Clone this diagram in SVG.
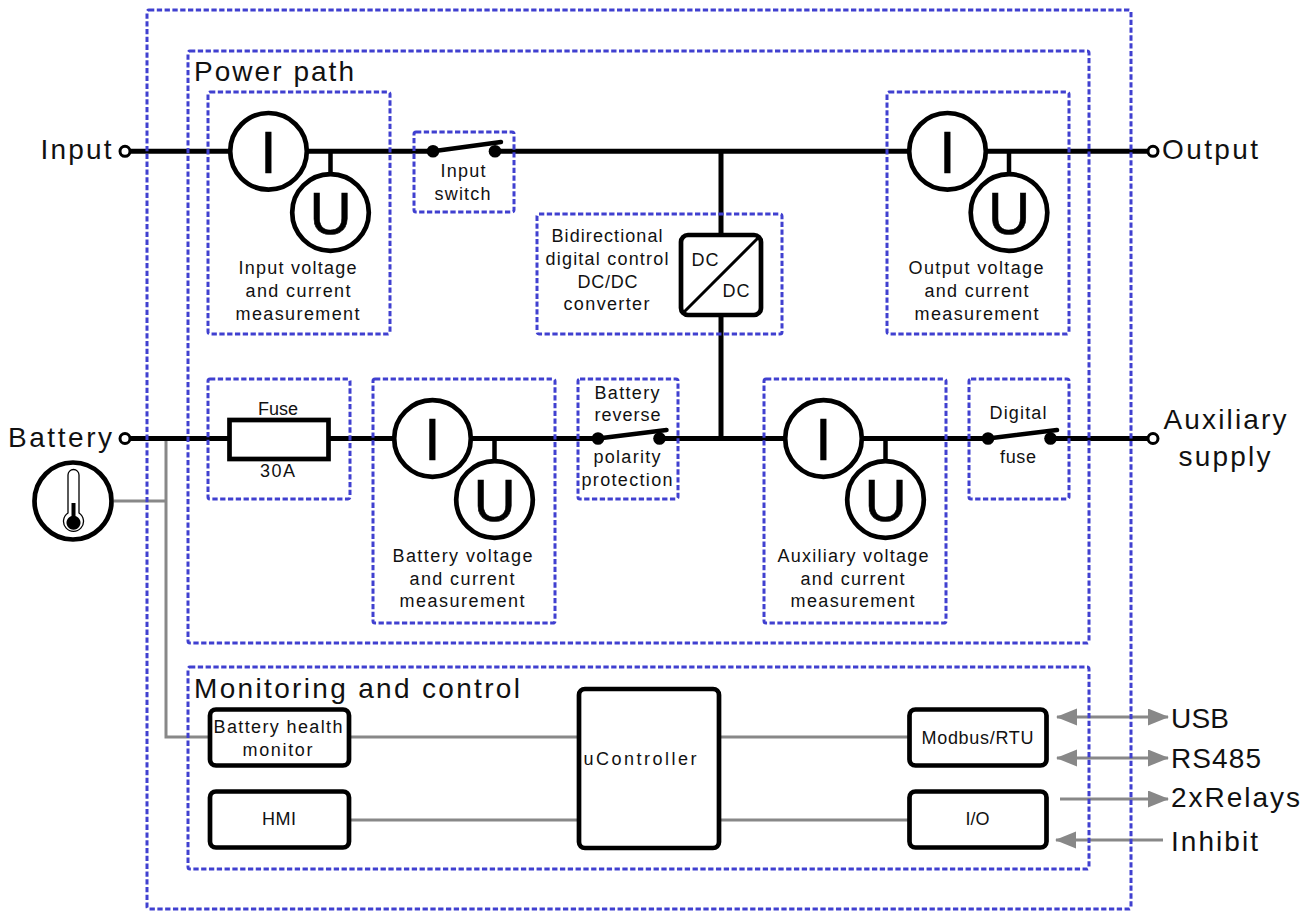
<svg xmlns="http://www.w3.org/2000/svg" width="1316" height="911" viewBox="0 0 1316 911">
<style>
text{font-family:"Liberation Sans",Arial,sans-serif;fill:#111;text-anchor:middle}
.s{font-size:18px}
.l{font-size:28px}
.ls{text-anchor:start}
.m{font-size:58.5px;fill:#000;stroke:#000;stroke-width:.6}
.d{fill:none;stroke:#4040d0;stroke-width:3;stroke-dasharray:5.3 2.500}
.p{fill:none;stroke:#000;stroke-width:5}
.g{fill:none;stroke:#888;stroke-width:3}
.c{fill:#fff;stroke:#000;stroke-width:4.700}
.b{fill:#fff;stroke:#000;stroke-width:4.700}
.t{fill:#fff;stroke:#000;stroke-width:3}
.w{fill:none;stroke:#000;stroke-width:4.500;stroke-linecap:round}
</style>
<defs>
<marker id="ah" markerUnits="userSpaceOnUse" markerWidth="22" markerHeight="18" refX="20" refY="8.500" orient="auto-start-reverse"><path d="M0 0L21 8.500L0 17z" fill="#888"/></marker>
</defs>
<g id="connectors">
<path class="g" d="M114 501H166M166 438V737H210M349 737H579M349 820H579M719 737H909M719 820H909"/>
<path class="g" d="M1057 717H1168" marker-start="url(#ah)" marker-end="url(#ah)"/>
<path class="g" d="M1057 758H1168" marker-start="url(#ah)" marker-end="url(#ah)"/>
<path class="g" d="M1060 799H1168" marker-end="url(#ah)"/>
<path class="g" d="M1163 840H1056" marker-end="url(#ah)"/>
<path class="p" d="M131 151.300H433M495 151.300H1147M721 151V438.500M131 438.500H598M660 438.500H988M1051 438.500H1147"/>
<path d="M330.500 151V180M1009 151V180M494.500 438V468M885.500 438V468" fill="none" stroke="#000" stroke-width="4.500"/>
</g>
<g id="zones">
<rect class="d" x="147" y="10" width="984" height="899" rx="2"/>
<rect class="d" x="188" y="51" width="901" height="592" rx="2"/>
<rect class="d" x="188" y="667" width="901" height="202" rx="2"/>
<text class="l ls" x="194" y="81" textLength="160">Power path</text>
<text class="l ls" x="194" y="698" textLength="326">Monitoring and control</text>
</g>
<g id="input-terminal"><circle class="t" cx="125" cy="151.300" r="5"/><text class="l" x="76" y="159" textLength="71">Input</text></g>
<g id="output-terminal"><circle class="t" cx="1153" cy="151.300" r="5"/><text class="l ls" x="1162" y="159" textLength="96">Output</text></g>
<g id="battery-terminal"><circle class="t" cx="125" cy="438.500" r="5"/><text class="l" x="60" y="447" textLength="104">Battery</text></g>
<g id="aux-terminal"><circle class="t" cx="1153" cy="438.500" r="5"/><text class="l" x="1225" y="429" textLength="123">Auxiliary</text><text class="l" x="1224.500" y="466" textLength="92">supply</text></g>
<g id="temperature-sensor">
<circle class="c" cx="73" cy="501" r="38.500"/>
<path d="M68 475a5.500 5.500 0 0 1 11 0V513a10 10 0 1 1-11 0z" fill="#fff" stroke="#000" stroke-width="1.300"/>
<path d="M71.500 503H75.500V516A7 7 0 1 1 71.500 516z" fill="#000"/>
</g>
<g id="input-meter">
<circle class="c" cx="268.500" cy="151.300" r="38.300"/><text class="m" x="268.500" y="173">I</text>
<circle class="c" cx="330.500" cy="212.500" r="38.300"/><text class="m" x="330.500" y="234">U</text>
<text class="s" x="297.500" y="274" textLength="118">Input voltage</text><text class="s" x="298" y="297" textLength="105">and current</text><text class="s" x="297.500" y="320" textLength="124">measurement</text>
<rect class="d" x="208" y="92" width="182" height="242" rx="2"/>
</g>
<g id="output-meter">
<circle class="c" cx="947.500" cy="151.300" r="38.300"/><text class="m" x="947.500" y="173">I</text>
<circle class="c" cx="1009" cy="212.500" r="38.300"/><text class="m" x="1009" y="234">U</text>
<text class="s" x="976" y="274" textLength="135">Output voltage</text><text class="s" x="976.500" y="297" textLength="104">and current</text><text class="s" x="976.500" y="320" textLength="124">measurement</text>
<rect class="d" x="887" y="92" width="182" height="242" rx="2"/>
</g>
<g id="input-switch">
<circle cx="433" cy="151.300" r="6.300"/><circle cx="495" cy="151.300" r="6.300"/><path class="w" d="M433 151.300L501 142"/>
<text class="s" x="463" y="177" textLength="45">Input</text><text class="s" x="462.500" y="200" textLength="56">switch</text>
<rect class="d" x="414" y="132" width="100" height="80" rx="2"/>
</g>
<g id="dcdc">
<rect class="b" x="681" y="235" width="80" height="80" rx="7"/><path d="M683 313L759 237" stroke="#000" stroke-width="3"/>
<text class="s" x="705" y="266" textLength="27">DC</text><text class="s" x="736" y="297" textLength="27">DC</text>
<text class="s" x="607" y="242" textLength="111">Bidirectional</text><text class="s" x="607" y="265" textLength="123">digital control</text><text class="s" x="607.500" y="288" textLength="60">DC/DC</text><text class="s" x="606.500" y="310" textLength="86">converter</text>
<rect class="d" x="537" y="214" width="245" height="120" rx="2"/>
</g>
<g id="fuse">
<rect class="b" x="229.500" y="420" width="99" height="39"/>
<text class="s" x="278" y="415" textLength="40">Fuse</text><text class="s" x="277.500" y="477" textLength="35">30A</text>
<rect class="d" x="208" y="379" width="142" height="120" rx="2"/>
</g>
<g id="battery-meter">
<circle class="c" cx="432.500" cy="438.500" r="38.300"/><text class="m" x="432.500" y="460">I</text>
<circle class="c" cx="494.500" cy="499.500" r="38.300"/><text class="m" x="494.500" y="521">U</text>
<text class="s" x="462.500" y="562" textLength="140">Battery voltage</text><text class="s" x="462" y="585" textLength="105">and current</text><text class="s" x="462" y="607" textLength="125">measurement</text>
<rect class="d" x="373" y="379" width="182" height="244" rx="2"/>
</g>
<g id="reverse-polarity">
<circle cx="598" cy="438.500" r="6.300"/><circle cx="659.500" cy="438.500" r="6.300"/><path class="w" d="M598 438.500L666.500 430"/>
<text class="s" x="627" y="399" textLength="65">Battery</text><text class="s" x="627.500" y="421" textLength="66">reverse</text><text class="s" x="627" y="463" textLength="67">polarity</text><text class="s" x="627" y="486" textLength="91">protection</text>
<rect class="d" x="578" y="379" width="100" height="120" rx="2"/>
</g>
<g id="aux-meter">
<circle class="c" cx="823.500" cy="438.500" r="38.300"/><text class="m" x="823.500" y="460">I</text>
<circle class="c" cx="885.500" cy="499.500" r="38.300"/><text class="m" x="885.500" y="521">U</text>
<text class="s" x="853" y="562" textLength="151">Auxiliary voltage</text><text class="s" x="852.500" y="585" textLength="104">and current</text><text class="s" x="852.500" y="607" textLength="124">measurement</text>
<rect class="d" x="764" y="379" width="182" height="244" rx="2"/>
</g>
<g id="digital-fuse">
<circle cx="988" cy="438.500" r="6.300"/><circle cx="1050.500" cy="438.500" r="6.300"/><path class="w" d="M988 438.500L1057 430"/>
<text class="s" x="1018" y="419" textLength="57">Digital</text><text class="s" x="1018" y="463" textLength="36">fuse</text>
<rect class="d" x="969" y="379" width="100" height="120" rx="2"/>
</g>
<g id="battery-health"><rect class="b" x="210" y="709.500" width="139" height="56" rx="6"/><text class="s" x="278" y="733" textLength="129">Battery health</text><text class="s" x="277.500" y="756" textLength="70">monitor</text></g>
<g id="hmi"><rect class="b" x="210" y="791.500" width="139" height="56" rx="6"/><text class="s" x="279" y="825" textLength="34">HMI</text></g>
<g id="ucontroller"><rect class="b" x="579" y="689" width="140" height="159" rx="6"/><text class="s" x="640" y="765" textLength="113">uController</text></g>
<g id="modbus"><rect class="b" x="909.500" y="709.500" width="137" height="56" rx="6"/><text class="s" x="977.500" y="744" textLength="112">Modbus/RTU</text></g>
<g id="io"><rect class="b" x="909.500" y="791.500" width="137" height="56" rx="6"/><text class="s" x="977.500" y="825" textLength="24">I/O</text></g>
<g id="ext-labels">
<text class="l ls" x="1171" y="728" textLength="58">USB</text><text class="l ls" x="1171" y="768" textLength="90">RS485</text><text class="l ls" x="1171" y="807" textLength="129">2xRelays</text><text class="l ls" x="1171" y="851" textLength="87">Inhibit</text>
</g>
</svg>
